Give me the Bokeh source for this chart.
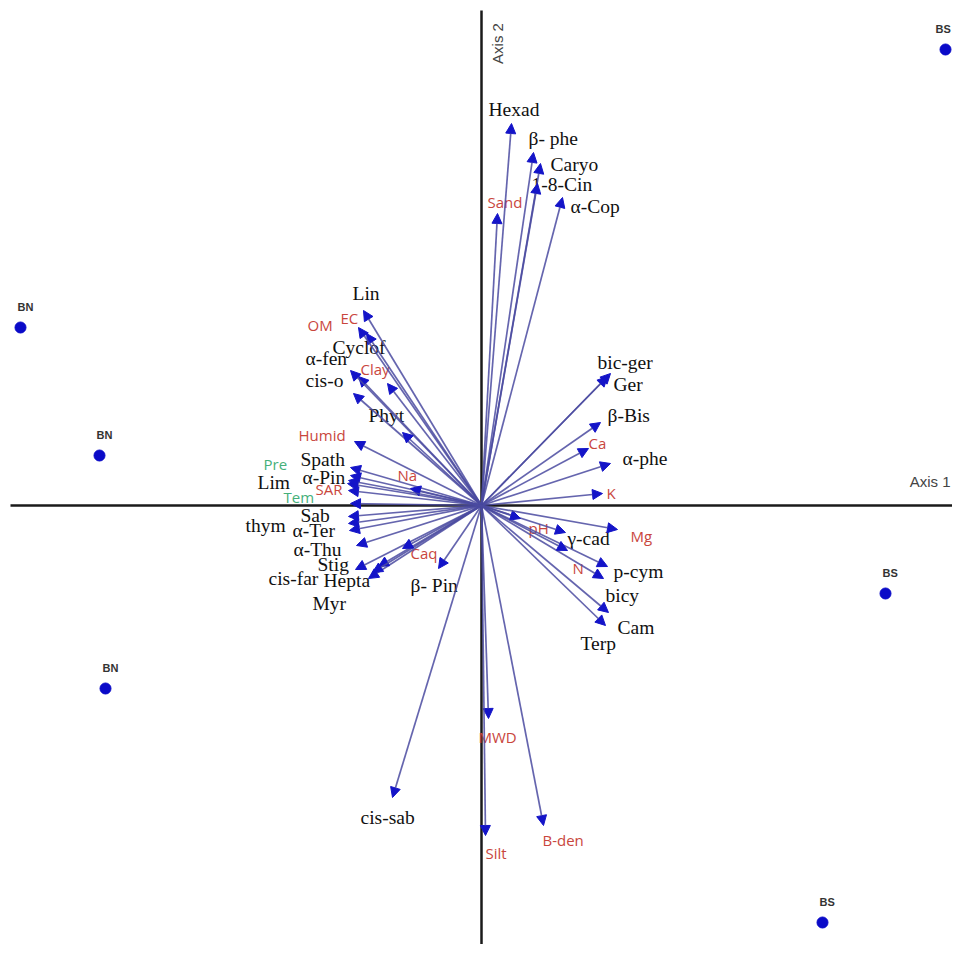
from bokeh.plotting import figure
from bokeh.models import ColumnDataSource, Arrow, NormalHead, Range1d, Label
from bokeh.core.properties import value
from bokeh.embed import file_html
from bokeh.resources import INLINE

# ---- data (biplot scores) ----
species = ["Hexad", "β- phe", "Caryo", "1-8-Cin", "α-Cop", "Lin", "Cyclof", "α-fen", "cis-o",
           "Phyt", "Spath", "α-Pin", "Lim", "Sab", "thym", "α-Ter", "α-Thu", "Stig", "cis-far",
           "Hepta", "Myr", "β- Pin", "bic-ger", "Ger", "β-Bis", "α-phe", "γ-cad", "p-cym",
           "bicy", "Cam", "Terp", "cis-sab"]
species_x = [0.30, 0.52, 0.59, 0.56, 0.81, -1.18, -1.23, -1.31, -1.28,
             -0.79, -1.31, -1.31, -1.34, -1.33, -1.33, -1.32, -1.25, -1.26, -1.13,
             -1.03, -1.09, -0.43, 1.29, 1.26, 1.19, 1.29, 0.84, 1.26,
             1.22, 1.27, 1.24, -0.89]
species_y = [3.82, 3.53, 3.42, 3.22, 3.08, 1.95, 1.29, 1.35, 1.12,
             0.73, 0.38, 0.30, 0.22, -0.11, -0.18, -0.25, -0.40, -0.64, -0.73,
             -0.61, -0.67, -0.63, 1.32, 1.29, 0.83, 0.42, -0.27, -0.61,
             -0.73, -1.07, -1.20, -2.92]

soil = ["Sand", "EC", "OM", "Clay", "Humid", "Na", "SAR", "Caq", "Ca", "K", "pH", "Mg", "N",
        "MWD", "Silt", "B-den"]
soil_x = [0.16, -1.15, -1.23, -0.94, -1.27, -0.71, -1.33, -0.79, 1.07, 1.21, 0.39, 1.36, 0.86,
          0.07, 0.04, 0.62]
soil_y = [2.92, 1.72, 1.78, 1.22, 0.64, 0.17, 0.15, -0.43, 0.57, 0.12, -0.13, -0.24, -0.45,
          -2.13, -3.30, -3.20]

climate = ["Pre", "Tem"]
climate_x = [-1.33, -1.31]
climate_y = [0.25, 0.02]

sites = ["BS", "BN", "BN", "BN", "BS", "BS"]
site_x = [4.64, -4.61, -3.82, -3.76, 4.04, 3.41]
site_y = [4.56, 1.78, 0.50, -1.83, -0.88, -4.17]

# ---- label offsets in screen pixels (dx right, dy down) ----
species_off = {
    "Hexad": (-23, -14), "β- phe": (-5, -14), "Caryo": (10, 1), "1-8-Cin": (-6, 1),
    "α-Cop": (8, 9), "Lin": (-11, -17), "Cyclof": (-26, -29), "α-fen": (-45, -12),
    "cis-o": (-48, -13), "Phyt": (-34, -17), "Spath": (-50, -8), "α-Pin": (-48, 2),
    "Lim": (-90, -1), "Sab": (-48, -1), "thym": (-103, 2), "α-Ter": (-57, 0),
    "α-Thu": (-63, 4), "Stig": (-38, -5), "cis-far": (-100, 0), "Hepta": (-55, 14),
    "Myr": (-60, 31), "β- Pin": (-28, 17), "bic-ger": (-13, -11), "Ger": (6, 8),
    "β-Bis": (7, -7), "α-phe": (12, -5), "γ-cad": (2, 6), "p-cym": (6, 5),
    "bicy": (2, 17), "Cam": (9, 15), "Terp": (-25, 18), "cis-sab": (-32, 20),
}
soil_off = {
    "Sand": (-10, -12), "EC": (-26, -16), "OM": (-51, -3), "Clay": (-27, -15),
    "Humid": (-56, -7), "Na": (-13, -14), "SAR": (-33, -2), "Caq": (8, 4), "Ca": (0, -6),
    "K": (4, -1), "pH": (8, 9), "Mg": (13, 6), "N": (5, 17), "MWD": (-10, 18),
    "Silt": (0, 17), "B-den": (-1, 14),
}
climate_off = {"Pre": (-85, -17), "Tem": (-67, -7)}
site_dx = [-10, -3, -3, -3, -3, -3]
site_dy = -21

PX = 100.0  # pixels per data unit

p = figure(width=952, height=944, output_backend="svg", toolbar_location=None,
           x_range=Range1d(-4.81, 4.71), y_range=Range1d(-4.39, 5.05),
           min_border=0)
p.axis.visible = False
p.grid.visible = False
p.outline_line_color = None
p.background_fill_color = "white"
p.border_fill_color = "white"

# axes lines
p.segment(x0=[0.0, -4.71], y0=[4.95, 0.0], x1=[0.0, 5.0], y1=[-5.0, 0.0],
          line_color="#1a1a1a", line_width=2.5)

def lab_source(names, xs, ys, offs):
    lx = [x + offs[n][0] / PX for n, x in zip(names, xs)]
    ly = [y - offs[n][1] / PX for n, y in zip(names, ys)]
    return ColumnDataSource(dict(x=lx, y=ly, t=names))

# labels
p.text(x="x", y="y", text="t", source=lab_source(species, species_x, species_y, species_off),
       text_font=value("Liberation Serif"), text_font_size="19.5px", text_color="#111111",
       text_baseline="middle", text_align="left")
p.text(x="x", y="y", text="t", source=lab_source(soil, soil_x, soil_y, soil_off),
       text_font=value("Open Sans"), text_font_size="15px", text_color="#c9463d",
       text_baseline="middle", text_align="left")
p.text(x="x", y="y", text="t", source=lab_source(climate, climate_x, climate_y, climate_off),
       text_font=value("Open Sans"), text_font_size="15px", text_color="#45b07a",
       text_baseline="middle", text_align="left")

# arrows
all_x = species_x + soil_x + climate_x
all_y = species_y + soil_y + climate_y
asrc = ColumnDataSource(dict(x0=[0.0] * len(all_x), y0=[0.0] * len(all_y), x1=all_x, y1=all_y))
p.add_layout(Arrow(x_start="x0", y_start="y0", x_end="x1", y_end="y1", source=asrc,
                   line_color="#4a4aa0", line_width=1.7, line_alpha=0.85,
                   end=NormalHead(size=10, fill_color="#1414c8", line_color="#1414c8")))

# sites
p.scatter(site_x, site_y, size=11, marker="circle", fill_color="#0a0ac8", line_color="#0a0ac8")
site_src = ColumnDataSource(dict(x=[x + d / PX for x, d in zip(site_x, site_dx)],
                                 y=[y - site_dy / PX for y in site_y], t=sites))
p.text(x="x", y="y", text="t", source=site_src, text_font=value("Liberation Sans"),
       text_font_size="11px", text_font_style="bold", text_color="#333333",
       text_baseline="middle", text_align="left")

# axis titles
p.add_layout(Label(x=0.16, y=4.62, text="Axis 2", angle=1.5708, text_font="Liberation Sans",
                   text_font_size="15px", text_color="#444444", text_align="center",
                   text_baseline="middle"))
p.add_layout(Label(x=4.69, y=0.24, text="Axis 1", text_font="Liberation Sans",
                   text_font_size="15px", text_color="#444444", text_align="right",
                   text_baseline="middle"))

open("out.html", "w").write(file_html(p, INLINE))
